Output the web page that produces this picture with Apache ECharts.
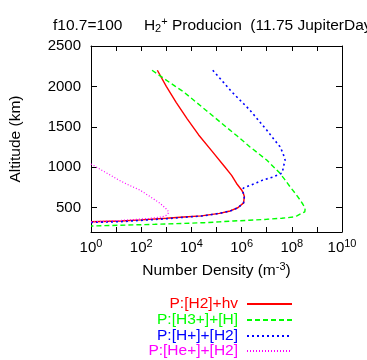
<!DOCTYPE html>
<html><head><meta charset="utf-8">
<script src="https://cdn.jsdelivr.net/npm/echarts@6/dist/echarts.min.js"></script>
<style>html,body{margin:0;padding:0;background:#fff}#c{width:367px;height:360px}</style>
</head><body><div id="c"></div>
<script>
// Altitude (km) and number density (m^-3)
const redAlt = [2200,2000,1800,1600,1400,1200,1000,900,800,720,680,640,560,500,460,430,400,385,370,350,336,327];
const redDen = [4.4e2,1.0e3,2.5e3,6.8e3,1.95e4,6.6e4,2.2e5,4.0e5,6.3e5,1.0e6,1.17e6,1.29e6,1.2e6,7.1e5,3.5e5,1.3e5,2.5e4,5.0e3,1.0e3,1.0e2,1.6e1,1.0];

const greenAlt = [2200,2000,1935,1700,1500,1380,1255,1090,990,925,850,760,680,600,540,490,450,430,400,385,370,357,345,336,325,315,295,274];
const greenDen = [2.7e2,2.3e3,4.8e3,4.0e4,2.4e5,7.1e5,2.1e6,1.0e7,2.1e7,3.4e7,5.2e7,8.5e7,1.35e8,2.1e8,2.8e8,3.4e8,3.3e8,2.9e8,1.6e8,1.15e8,4.0e7,1.0e7,2.0e6,4.7e5,1.26e5,3.2e4,3.5e2,1.0];

const blueAlt = [2200,2050,1935,1710,1460,1350,1255,1170,1090,1050,990,926,880,843,810,780,745,720,680,640,560,500,460,430,397,382,364,344,328,318];
const blueDen = [7.1e4,1.9e5,4.0e5,2.1e6,1.0e7,1.9e7,3.4e7,4.5e7,5.4e7,5.0e7,4.6e7,4.0e7,1.8e7,7.2e6,4.0e6,2.3e6,1.2e6,1.1e6,1.17e6,1.29e6,1.2e6,7.1e5,3.5e5,1.3e5,2.5e4,5.0e3,1.0e3,1.0e2,1.6e1,1.0];

const magAlt = [1040,960,905,843,780,719,640,555,500,470,440,425,405,385,368,352,338,325];
const magDen = [1.0,2.8,5.8,1.26e1,3.2e1,8.9e1,2.2e2,5.6e2,8.9e2,1.12e3,1.26e3,1.26e3,1.0e3,6.3e2,2.0e2,4.0e1,7.9,1.0];

const seriesNames = ['P:[H2]+hv','P:[H3+]+[H]','P:[H+]+[H2]','P:[He+]+[H2]'];
const yTicks = [500,1000,1500,2000,2500];

function pairs(xs, ys){ return xs.map((x,i)=>[x, ys[i]]); }

const chart = echarts.init(document.getElementById('c'), null, {renderer:'canvas'});
const FONT = 'Liberation Sans, Arial, Helvetica, sans-serif';
const FS = 15.5;
const supRich = {
  b:{fontSize:15,fontFamily:FONT,color:'#000'},
  s:{fontSize:11,fontFamily:FONT,color:'#000',padding:[0,0,9,0]}
};
const nameRich = {
  b:{fontSize:FS,fontFamily:FONT,color:'#000'},
  s:{fontSize:11,fontFamily:FONT,color:'#000',padding:[0,0,9,0]}
};
const colors = ['#ff0000','#00ff00','#0000ff','#ff00ff'];
const styles = [
  {type:'solid',width:1.4},
  {type:[5,3],width:1.4},
  {type:[2,3],width:1.6},
  {type:[1,2],width:1.2}
];
const datasets = [pairs(redDen,redAlt),pairs(greenDen,greenAlt),pairs(blueDen,blueAlt),pairs(magDen,magAlt)];
const legendTops = [296,312,328,343];

const option = {
  animation:false,
  title:{
    text:'f10.7=100     {n|H}{sub|2}{sup|+}{n| Producion  (11.75 JupiterDays)}',
    left:48, top:11,
    textStyle:{
      fontSize:FS,fontFamily:FONT,fontWeight:'normal',color:'#000',
      rich:{
        n:{fontSize:FS,fontFamily:FONT,color:'#000'},
        sub:{fontSize:11,fontFamily:FONT,color:'#000',padding:[6,0,0,0]},
        sup:{fontSize:11,fontFamily:FONT,color:'#000',padding:[0,0,8,0]}
      }
    }
  },
  legend: seriesNames.map((n,i)=>({
    data:[n], orient:'vertical', align:'right', right:74, top:legendTops[i],
    padding:0, itemWidth:45, itemHeight:15, selectedMode:false,
    itemStyle:{opacity:0, borderWidth:0},
    textStyle:{color:colors[i],fontSize:FS,fontFamily:FONT,padding:[0,4,0,0]}
  })),
  grid:{left:91,right:25,top:46,bottom:128},
  xAxis:[{
    type:'log', logBase:10, min:1, max:1e10, interval:1,
    name:'{b|Number Density (m}{s|-3}{b|)}', nameLocation:'middle', nameGap:29,
    nameTextStyle:{fontSize:FS,fontFamily:FONT,color:'#000',rich:nameRich},
    axisLine:{show:true,lineStyle:{color:'#000',width:1}},
    axisTick:{show:true,inside:true,length:5,lineStyle:{color:'#000'}},
    splitLine:{show:false}, minorTick:{show:false},
    axisLabel:{
      margin:6, fontSize:15, fontFamily:FONT, color:'#000', rich:supRich,
      formatter:function(v){ const e=Math.round(Math.log10(v)); return (e%2===0)?('{b|10}{s|'+e+'}'):''; }
    }
  },{
    type:'log', logBase:10, min:1, max:1e10, interval:1, position:'top',
    axisLine:{show:true,lineStyle:{color:'#000',width:1}},
    axisTick:{show:true,inside:true,length:5,lineStyle:{color:'#000'}},
    axisLabel:{show:false}, splitLine:{show:false}
  }],
  yAxis:[{
    type:'value', min:200, max:2500,
    name:'Altitude (km)', nameLocation:'middle', nameGap:67, nameRotate:90,
    nameTextStyle:{fontSize:FS,fontFamily:FONT,color:'#000'},
    axisLine:{show:true,lineStyle:{color:'#000',width:1}},
    axisTick:{show:true,inside:true,length:6,lineStyle:{color:'#000'},customValues:yTicks},
    axisLabel:{fontSize:15,fontFamily:FONT,color:'#000',margin:10,customValues:yTicks,
      formatter:function(v){ return String(v); }},
    splitLine:{show:false}
  },{
    type:'value', min:200, max:2500, position:'right',
    axisLine:{show:true,lineStyle:{color:'#000',width:1}},
    axisTick:{show:true,inside:true,length:6,lineStyle:{color:'#000'},customValues:yTicks},
    axisLabel:{show:false}, splitLine:{show:false}
  }],
  series: seriesNames.map((n,i)=>({
    name:n, type:'line', xAxisIndex:0, yAxisIndex:0, data:datasets[i],
    showSymbol:false, symbol:'none', smooth:false, clip:true,
    lineStyle:{color:colors[i], type:styles[i].type, width:styles[i].width},
    itemStyle:{color:colors[i]}
  }))
};
chart.setOption(option);
</script>
</body></html>
